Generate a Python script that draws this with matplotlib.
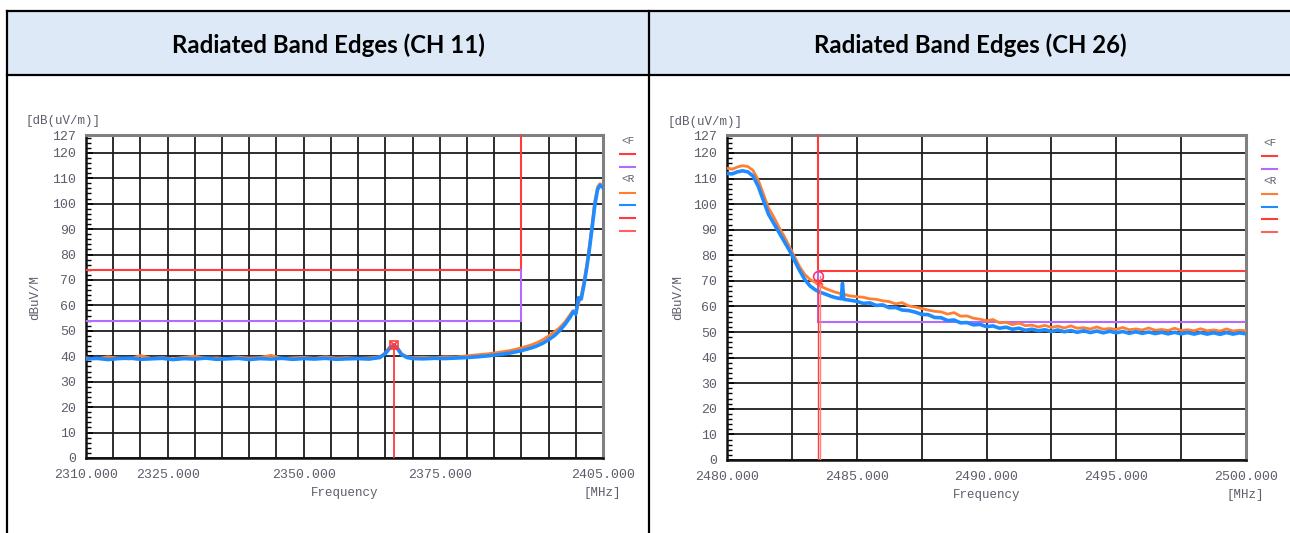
import matplotlib.pyplot as plt
from matplotlib.ticker import MultipleLocator

W, H = 1290, 533

titles = ['Radiated Band Edges (CH 11)', 'Radiated Band Edges (CH 26)']

# CH 11 traces
f11 = [2310, 2312, 2314, 2316, 2318, 2320, 2322, 2324, 2326, 2328,
       2330, 2332, 2334, 2336, 2338, 2340, 2342, 2344, 2346, 2348,
       2350, 2352, 2354, 2356, 2358, 2360, 2362, 2364,
       2365, 2365.8, 2366.6, 2367.3, 2368, 2369, 2370,
       2372, 2374, 2376, 2378, 2380, 2382, 2384, 2386, 2388, 2390, 2392,
       2393, 2394, 2395, 2396, 2397, 2398,
       2398.5, 2399, 2399.5, 2400, 2400.5, 2401, 2401.5, 2402, 2402.5, 2403, 2403.5, 2404,
       2404.4, 2404.7, 2405]
blue11 = [38.9, 39.2, 38.7, 39.1, 39.3, 38.8, 39.0, 39.2, 38.7, 39.1,
          38.9, 39.3, 38.8, 39.0, 39.2, 38.7, 39.1, 38.9, 39.2, 38.8,
          39.1, 38.9, 39.2, 38.8, 39.0, 39.1, 38.9, 39.5,
          41.0, 43.2, 44.3, 42.8, 40.6, 39.5, 39.1,
          39.0, 39.2, 39.1, 39.3, 39.5, 39.8, 40.2, 40.7, 41.3, 42.2, 43.4,
          44.2, 45.2, 46.5, 48.0, 50.0, 52.5,
          54.0, 55.5, 57.5, 56.5, 63.0, 62.5, 68.0, 74.5, 82.0, 90.5, 99.5, 105.5,
          107.2, 107.0, 106.2]
orange11 = [39.4, 39.0, 39.8, 39.3, 38.9, 40.3, 39.2, 39.5, 39.0, 39.6,
            40.1, 39.2, 39.4, 39.0, 39.7, 39.3, 39.5, 40.4, 39.1, 39.4,
            39.6, 39.2, 39.8, 39.3, 39.5, 39.2, 39.4, 39.8,
            41.4, 43.6, 44.8, 43.2, 41.0, 39.8, 39.5,
            39.6, 39.4, 39.8, 39.7, 40.2, 40.6, 41.0, 41.6, 42.3, 43.3, 44.6,
            45.5, 46.6, 48.0, 49.5, 51.2, 53.5,
            55.0, 56.5, 58.0, 57.5, 60.5, 64.0, 69.5, 76.0, 83.5, 92.0, 101.0, 106.5,
            107.8, 107.6, 106.8]

# CH 26 traces
f26 = [2480.0, 2480.2, 2480.4, 2480.6, 2480.8, 2481.0, 2481.2, 2481.4, 2481.6, 2481.8,
       2482.0, 2482.2, 2482.4, 2482.6, 2482.8, 2483.0, 2483.2, 2483.4, 2483.6, 2483.8,
       2484.0, 2484.2, 2484.4, 2484.45, 2484.5, 2484.7, 2485.0,
       2485.25, 2485.5, 2485.75, 2486.0, 2486.25, 2486.5, 2486.75, 2487.0, 2487.25, 2487.5,
       2487.75, 2488.0, 2488.25, 2488.5, 2488.75, 2489.0, 2489.25, 2489.5, 2489.75, 2490.0,
       2490.25, 2490.5, 2490.75, 2491.0, 2491.25, 2491.5, 2491.75, 2492.0, 2492.25, 2492.5,
       2492.75, 2493.0, 2493.25, 2493.5, 2493.75, 2494.0, 2494.25, 2494.5, 2494.75, 2495.0,
       2495.25, 2495.5, 2495.75, 2496.0, 2496.25, 2496.5, 2496.75, 2497.0, 2497.25, 2497.5,
       2497.75, 2498.0, 2498.25, 2498.5, 2498.75, 2499.0, 2499.25, 2499.5, 2499.75, 2500.0]
blue26 = [112.0, 111.8, 112.6, 113.0, 112.6, 111.0, 107.0, 101.5, 96.0, 92.5,
          89.0, 85.5, 82.0, 78.0, 74.0, 70.5, 68.0, 66.5, 65.5, 64.8,
          64.0, 63.4, 63.0, 69.0, 62.8, 62.5, 62.0,
          61.2, 61.4, 60.4, 60.6, 59.5, 59.6, 58.6, 58.4, 57.8, 56.9,
          56.8, 55.7, 55.6, 54.5, 54.7, 53.6, 53.7, 52.8, 53.0, 52.1,
          52.4, 51.5, 51.9, 51.1, 51.5, 50.7, 51.1, 50.5, 50.9, 50.2,
          50.8, 50.1, 50.6, 49.9, 50.5, 49.8, 50.4, 49.7, 50.3, 49.7,
          50.2, 49.5, 50.1, 49.5, 50.0, 49.4, 49.9, 49.3, 49.9, 49.3,
          49.8, 49.2, 49.8, 49.2, 49.7, 49.1, 49.8, 49.2, 49.7, 49.3]
orange26 = [114.0, 113.6, 114.5, 115.0, 114.7, 113.2, 109.5, 104.0, 98.5, 95.0,
            91.0, 87.5, 83.5, 79.5, 75.5, 72.5, 70.5, 69.5, 68.0, 67.0,
            66.2, 65.5, 65.0, 66.0, 64.8, 64.2, 63.8,
            63.6, 63.0, 62.8, 62.2, 61.9, 61.0, 61.5, 60.2, 59.8, 59.2,
            58.6, 58.1, 57.9, 57.0, 57.6, 56.2, 56.3, 55.4, 55.0, 54.4,
            54.9, 53.6, 53.8, 52.9, 53.5, 52.5, 52.7, 52.0, 52.6, 51.8,
            52.3, 51.6, 52.4, 51.5, 51.7, 51.2, 52.0, 51.1, 51.4, 51.0,
            51.8, 50.9, 51.2, 50.8, 51.6, 50.7, 51.0, 50.6, 51.5, 50.6,
            50.9, 50.5, 51.3, 50.5, 50.8, 50.4, 51.2, 50.4, 50.7, 50.5]

lim_peak = 74
lim_avg = 54
edge11 = 2390
edge26 = 2483.5
mk11_f = [2366.6]
mk11_v = [44.5]
mk26_f = [2483.5, 2483.6]
mk26_v = [71.9, 69.4]

xr11 = (2310, 2405)
xr26 = (2480, 2500)
xlab11 = [2310, 2325, 2350, 2375, 2405]
xlab26 = [2480, 2485, 2490, 2495, 2500]
yticks = [0, 10, 20, 30, 40, 50, 60, 70, 80, 90, 100, 110, 120, 127]

RED = '#ff3b3b'
PURPLE = '#b36bff'
ORANGE = '#ff7f32'
BLUE = '#1e8cff'
GRAY = '#5d5d6b'
MONO = 'Liberation Mono'


def panel(rect, xr, step, xlab, f, orange, blue, edge, left_side):
    ax = fig.add_axes([rect[0] / W, 1 - (rect[1] + rect[3]) / H, rect[2] / W, rect[3] / H])
    ax.set_xlim(*xr)
    ax.set_ylim(0, 127)
    n = int(round((xr[1] - xr[0]) / step))
    xt = [xr[0] + i * step for i in range(n + 1)]
    ax.set_xticks(xt)
    ax.set_xticklabels(['%.3f' % x if any(abs(x - l) < 1e-6 for l in xlab) else '' for x in xt])
    ax.set_yticks(yticks)
    ax.yaxis.set_minor_locator(MultipleLocator(2))
    ax.grid(True, which='major', color='#1c1c1c', lw=1.3)
    ax.tick_params(axis='x', length=0, pad=8, labelsize=9.5, labelcolor=GRAY)
    ax.tick_params(axis='y', which='major', direction='in', length=5, width=1.2,
                   pad=7, labelsize=9.5, labelcolor=GRAY)
    ax.tick_params(axis='y', which='minor', direction='in', length=3.5, width=1.0)
    for lab in ax.get_xticklabels() + ax.get_yticklabels():
        lab.set_fontfamily(MONO)
    for s in ['left', 'bottom']:
        ax.spines[s].set_color('#111111')
        ax.spines[s].set_linewidth(1.8)
    for s in ['top', 'right']:
        ax.spines[s].set_color('#808080')
        ax.spines[s].set_linewidth(2.2)

    if left_side:
        ax.plot([xr[0], edge], [lim_peak, lim_peak], color=RED, lw=1.5, zorder=3)
        ax.plot([xr[0], edge], [lim_avg, lim_avg], color=PURPLE, lw=1.5, zorder=3)
    else:
        ax.plot([edge, xr[1]], [lim_peak, lim_peak], color=RED, lw=1.5, zorder=3)
        ax.plot([edge, xr[1]], [lim_avg, lim_avg], color=PURPLE, lw=1.5, zorder=3)
    ax.plot([edge, edge], [lim_peak, 127], color=RED, lw=1.5, zorder=3)
    ax.plot([edge, edge], [lim_avg, lim_peak], color=PURPLE, lw=1.5, zorder=3)

    ax.plot(f, orange, color=ORANGE, lw=2.0, zorder=4)
    ax.plot(f, blue, color=BLUE, lw=2.6, zorder=5)
    return ax


fig = plt.figure(figsize=(W / 100, H / 100), dpi=100)

bg = fig.add_axes([0, 0, 1, 1], zorder=-5)
bg.set_xlim(0, W)
bg.set_ylim(H, 0)
bg.axis('off')
bg.add_patch(plt.Rectangle((7, 11), W - 7, 64, facecolor='#dde9f6', edgecolor='none'))
bg.plot([7, W], [11, 11], color='black', lw=1.6)
bg.plot([7, W], [75, 75], color='black', lw=1.6)
bg.plot([7, 7], [11, H], color='black', lw=1.6)
bg.plot([649, 649], [11, H], color='black', lw=1.6)
bg.text(328, 45, titles[0], ha='center', va='center', fontsize=17.3, fontweight='bold',
        family='Lato', color='black')
bg.text(970, 45, titles[1], ha='center', va='center', fontsize=17.3, fontweight='bold',
        family='Lato', color='black')

# panel labels
for x0, yu, xyl, xf, xm, yf in [(25, 121, 35, 344.5, 602.5, 493), (667, 122, 678, 986.5, 1245.5, 495)]:
    bg.text(x0, yu, '[dB(uV/m)]', ha='left', va='center', fontsize=9, family=MONO, color=GRAY)
    bg.text(xyl, 297, 'dBuV/M', ha='center', va='center', rotation=90, fontsize=9,
            family=MONO, color=GRAY)
    bg.text(xf, yf, 'Frequency', ha='center', va='center', fontsize=9, family=MONO, color=GRAY)
    bg.text(xm, yf, '[MHz]', ha='center', va='center', fontsize=9, family=MONO, color=GRAY)

# legend stubs
for lx, dy in [(620, 0), (1262, 1.5)]:
    bg.text(lx + 1, 141 + dy, '<F', ha='left', va='center', fontsize=8, family=MONO, color=GRAY)
    bg.text(lx + 1, 179.5 + dy, '<R', ha='left', va='center', fontsize=8, family=MONO, color=GRAY)
    for yy, c in [(154, RED), (167, PURPLE), (192.5, ORANGE), (205, BLUE), (217.5, RED), (230.5, '#ff6060')]:
        bg.plot([lx, lx + 15], [yy + dy, yy + dy], color=c, lw=1.5)

ax1 = panel((86, 135, 517, 323), xr11, 5, xlab11, f11, orange11, blue11, edge11, True)
ax1.plot([mk11_f[0], mk11_f[0]], [0, mk11_v[0]], color=RED, lw=1.3, zorder=6)
ax1.plot(mk11_f, mk11_v, marker='s', ms=6, mfc='none', mec=RED, mew=1.2, ls='none', zorder=7)
ax1.plot(mk11_f, mk11_v, marker='x', ms=5, mec=RED, mew=1.2, ls='none', zorder=7)

ax2 = panel((727, 135, 519, 325), xr26, 2.5, xlab26, f26, orange26, blue26, edge26, False)
ax2.plot([mk26_f[0] + 0.02, mk26_f[0] + 0.02], [0, mk26_v[1]], color=RED, lw=1.0, zorder=6)
ax2.plot([mk26_f[1], mk26_f[1]], [0, mk26_v[0]], color='#ff8080', lw=1.0, zorder=6)
ax2.plot(mk26_f[:1], mk26_v[:1], marker='o', ms=7, mfc='none', mec='#ff3070', mew=1.2, ls='none', zorder=7)
ax2.plot(mk26_f[1:], mk26_v[1:], marker='x', ms=5, mec=RED, mew=1.2, ls='none', zorder=7)

fig.savefig('out.png', dpi=100)
